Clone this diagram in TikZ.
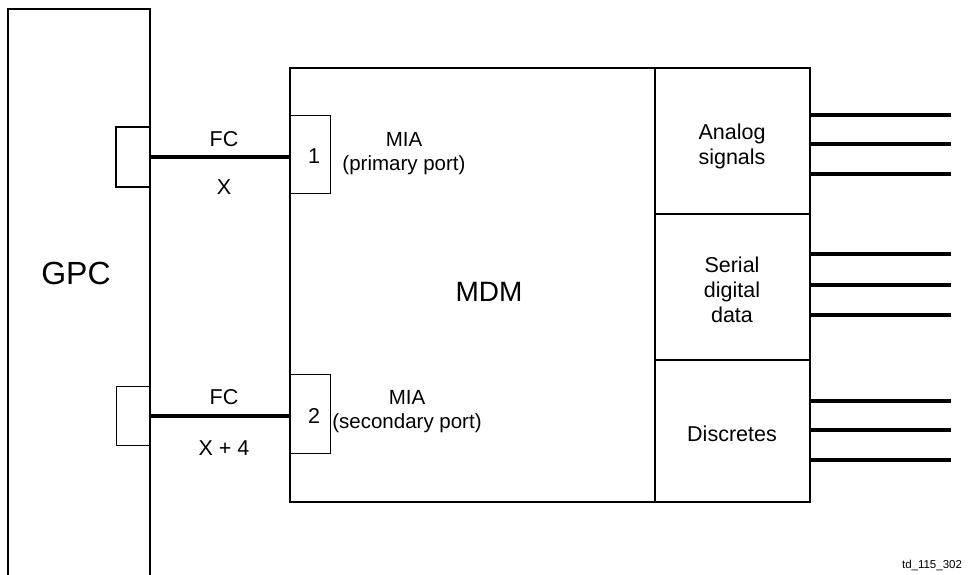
\documentclass[tikz,border=0pt]{standalone}
\usepackage{fontspec}
\setmainfont{Liberation Sans}
\begin{document}
\begin{tikzpicture}[x=1pt,y=-1pt,
  box/.style={draw,line width=1.8pt,inner sep=0pt,outer sep=0pt},
  thinbox/.style={draw,line width=0.9pt,inner sep=0pt,outer sep=0pt},
  wire/.style={line width=4.8pt},
  lbl/.style={font=\fontsize{21.5}{25}\selectfont,align=center},
  mia/.style={font=\fontsize{20.5}{24}\selectfont,align=center},
  sec/.style={font=\fontsize{21.5}{25}\selectfont,align=center}]
\useasboundingbox (0,0) rectangle (975,575);
% GPC
\draw[line width=1.8pt] (8,575) -- (8,9) -- (150,9) -- (150,575);
\node[font=\fontsize{32}{34}\selectfont] (gpc) at (76,273) {GPC};
% GPC ports
\node[box,minimum width=34pt,minimum height=60pt] (gp1) at (133,157) {};
\node[thinbox,minimum width=34pt,minimum height=59pt] (gp2) at (133,415.5) {};
% MDM
\node[box,minimum width=365pt,minimum height=434pt] (mdm) at (472.5,285) {};
\node[font=\fontsize{28}{30}\selectfont] (mdmt) at (489,292) {MDM};
% MIA ports
\node[thinbox,minimum width=40pt,minimum height=78pt] (mp1) at (310,154) {};
\node[lbl] (n1) at (314,156) {1};
\node[thinbox,minimum width=40pt,minimum height=79pt] (mp2) at (310,413.5) {};
\node[lbl] (n2) at (314,416) {2};
\node[mia] (mia1) at (404,154) {MIA\\(primary port)};
\node[mia] (mia2) at (407,412) {MIA\\(secondary port)};
% right sections
\node[box,minimum width=155pt,minimum height=146pt] (ana) at (732.5,141) {};
\node[box,minimum width=155pt,minimum height=146pt] (ser) at (732.5,287) {};
\node[box,minimum width=155pt,minimum height=142pt] (dis) at (732.5,431) {};
\node[sec] (anat) at (732,146) {Analog\\signals};
\node[sec] (sert) at (732,290) {Serial\\digital\\data};
\node[sec] (dist) at (732,434) {Discretes};
% FC links
\draw[wire] (gp1.east) -- (mp1.west |- gp1.east);
\draw[wire] (gp2.east |- 0,416) -- (mp2.west |- 0,416);
\node[lbl] (fc1) at (224,139) {FC};
\node[lbl] (x1) at (224,187) {X};
\node[lbl] (fc2) at (224,397) {FC};
\node[lbl] (x2) at (224,448) {X + 4};
% signal lines
\foreach \y [count=\i] in {115,144,174,254,285,315,401,430,460} {
  \coordinate (e\i) at (951,\y);
  \draw[wire] (811,\y) -- (e\i);
}
\node[font=\fontsize{11.5}{13}\selectfont] (tag) at (932,565) {td\_115\_302};
\end{tikzpicture}
\end{document}
